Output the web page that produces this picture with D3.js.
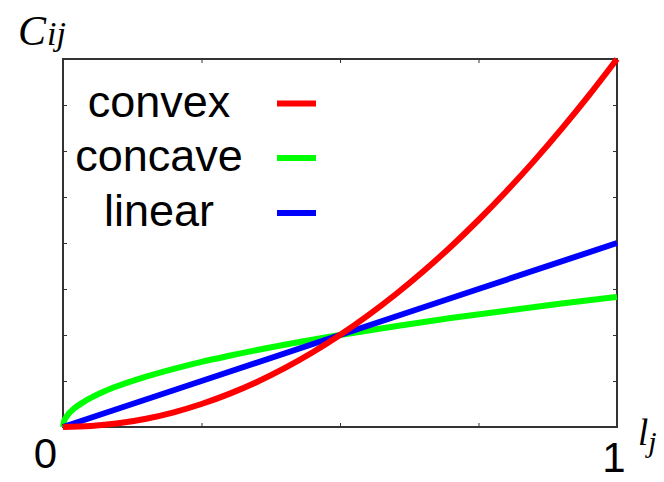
<!DOCTYPE html>
<html>
<head>
<meta charset="utf-8">
<script src="https://cdn.jsdelivr.net/npm/d3@7"></script>
<style>
  html, body { margin: 0; padding: 0; background: #fff; }
  svg { display: block; }
</style>
</head>
<body>
<svg id="chart" width="664" height="482"></svg>
<script>
// ---- data ----
const seriesNames = ["convex", "concave", "linear"];
const seriesColors = ["#ff0000", "#00ff00", "#0000ff"];

const convexX = [0, 0.05, 0.1, 0.15, 0.2, 0.25, 0.3, 0.35, 0.4, 0.45, 0.5, 0.55, 0.6, 0.65, 0.7, 0.75, 0.8, 0.85, 0.9, 0.95, 1];
const convexY = [0, 0.005, 0.02, 0.045, 0.08, 0.125, 0.18, 0.245, 0.32, 0.405, 0.5, 0.605, 0.72, 0.845, 0.98, 1.125, 1.28, 1.445, 1.62, 1.805, 2];

const concaveX = [0, 0.002, 0.005, 0.01, 0.02, 0.035, 0.05, 0.075, 0.1, 0.15, 0.2, 0.25, 0.3, 0.4, 0.5, 0.6, 0.7, 0.8, 0.9, 1];
const concaveY = [0, 0.032, 0.05, 0.071, 0.1, 0.132, 0.158, 0.194, 0.224, 0.274, 0.316, 0.354, 0.387, 0.447, 0.5, 0.548, 0.592, 0.632, 0.671, 0.707];

const linearX = [0, 0.5, 1];
const linearY = [0, 0.5, 1];

const xTicks = [0.25, 0.5, 0.75];
const yTicks = [0.25, 0.5, 0.75, 1, 1.25, 1.5, 1.75];
const xEndLabels = ["0", "1"];

// ---- layout ----
const svg = d3.select("#chart");
const pLeft = 63, pRight = 617, pTop = 59, pBottom = 427;

const x = d3.scaleLinear().domain([0, 1]).range([pLeft, pRight]);
const y = d3.scaleLinear().domain([0, 2]).range([pBottom, pTop]);

const frameColor = "#333";

// ticks (inward, all four sides)
const axes = [
  d3.axisBottom(x).tickValues(xTicks).tickSize(-4).tickFormat(""),
  d3.axisTop(x).tickValues(xTicks).tickSize(-4).tickFormat(""),
  d3.axisLeft(y).tickValues(yTicks).tickSize(-4).tickFormat(""),
  d3.axisRight(y).tickValues(yTicks).tickSize(-4).tickFormat("")
];
const translates = [`translate(0,${pBottom})`, `translate(0,${pTop})`, `translate(${pLeft},0)`, `translate(${pRight},0)`];
axes.forEach((ax, i) => {
  const g = svg.append("g").attr("transform", translates[i]).call(ax);
  g.select(".domain").remove();
  g.selectAll(".tick line").attr("stroke", frameColor).attr("stroke-width", 1);
});

// frame
svg.append("rect")
  .attr("x", pLeft).attr("y", pTop)
  .attr("width", pRight - pLeft).attr("height", pBottom - pTop)
  .attr("fill", "none").attr("stroke", frameColor).attr("stroke-width", 2);

// curves
const line = d3.line().x(d => x(d[0])).y(d => y(d[1])).curve(d3.curveMonotoneX);
const seriesData = [
  d3.zip(convexX, convexY),
  d3.zip(concaveX, concaveY),
  d3.zip(linearX, linearY)
];
// draw order: concave, linear, convex (red on top at the crossing)
[1, 2, 0].forEach(i => {
  svg.append("path")
    .datum(seriesData[i])
    .attr("d", line)
    .attr("fill", "none")
    .attr("stroke", seriesColors[i])
    .attr("stroke-width", 6);
});

// legend
const legendBaselines = [116.5, 171, 226];
seriesNames.forEach((name, i) => {
  svg.append("text")
    .attr("x", 159).attr("y", legendBaselines[i])
    .attr("text-anchor", "middle")
    .attr("font-family", "'Liberation Sans', Arial, sans-serif")
    .attr("font-size", 45)
    .attr("fill", "#000")
    .text(name);
  svg.append("line")
    .attr("x1", 277).attr("x2", 316)
    .attr("y1", legendBaselines[i] - 13).attr("y2", legendBaselines[i] - 13)
    .attr("stroke", seriesColors[i]).attr("stroke-width", 6);
});

// axis end labels
svg.append("text")
  .attr("x", 45.5).attr("y", 468)
  .attr("text-anchor", "middle")
  .attr("font-family", "'Liberation Sans', Arial, sans-serif")
  .attr("font-size", 42)
  .text(xEndLabels[0]);
svg.append("text")
  .attr("x", 614).attr("y", 472)
  .attr("text-anchor", "middle")
  .attr("font-family", "'Liberation Sans', Arial, sans-serif")
  .attr("font-size", 42)
  .text(xEndLabels[1]);

// y label C_ij
const cy = svg.append("text")
  .attr("x", 18).attr("y", 45)
  .attr("font-family", "'Liberation Serif', 'Times New Roman', serif")
  .attr("font-style", "italic");
cy.append("tspan").attr("font-size", 42).text("C");
cy.append("tspan").attr("font-size", 34).attr("dx", 1).text("ij");

// x label l_j
const lx = svg.append("text")
  .attr("x", 638).attr("y", 445)
  .attr("font-family", "'Liberation Serif', 'Times New Roman', serif")
  .attr("font-style", "italic");
lx.append("tspan").attr("font-size", 37).text("l");
lx.append("tspan").attr("font-size", 30).attr("dy", 7).attr("dx", 0).text("j");
</script>
</body>
</html>
